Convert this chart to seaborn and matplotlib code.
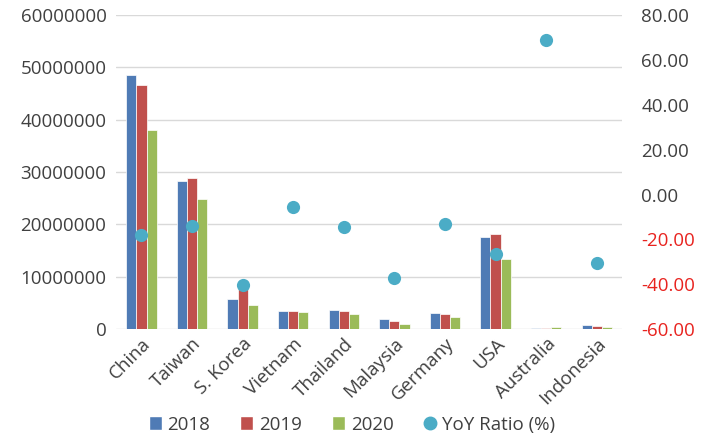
import numpy as np
import pandas as pd
import matplotlib
matplotlib.use("Agg")
import matplotlib.pyplot as plt
from matplotlib.ticker import FuncFormatter, FixedLocator
from matplotlib.lines import Line2D
from matplotlib.patches import Patch
import seaborn as sns

countries = ["China", "Taiwan", "S. Korea", "Vietnam", "Thailand", "Malaysia",
             "Germany", "USA", "Australia", "Indonesia"]
years = ["2018", "2019", "2020"]
v2018 = [48500000, 28400000, 5700000, 3400000, 3600000, 1900000, 3000000, 17600000, 150000, 750000]
v2019 = [46600000, 28800000, 8000000, 3400000, 3400000, 1650000, 2800000, 18200000, 200000, 650000]
v2020 = [38100000, 24800000, 4600000, 3200000, 2900000, 1000000, 2350000, 13400000, 500000, 400000]
yoy = [-18.2, -13.8, -40.4, -5.7, -14.5, -37.3, -12.9, -26.4, 69.0, -30.7]

colors = {"2018": "#4F7BB5", "2019": "#C0504D", "2020": "#9BBB59"}
dot_color = "#4BACC6"
text_color = "#404040"

sns.set_style("white")
plt.rcParams["font.family"] = ["Open Sans", "DejaVu Sans"]

df = pd.DataFrame({
    "country": countries * 3,
    "year": sum([[y] * len(countries) for y in years], []),
    "value": v2018 + v2019 + v2020,
})
dfy = pd.DataFrame({"country": countries, "yoy": yoy})

fig = plt.figure(figsize=(7.04, 4.46), dpi=100)
ax = fig.add_axes([0.165, 0.262, 0.7185, 0.704])
sns.barplot(data=df, x="country", y="value", hue="year", palette=colors,
            width=0.6, ax=ax, legend=False, edgecolor="white", linewidth=0.5,
            saturation=1)
ax.set_ylim(0, 60000000)
ax.yaxis.set_major_locator(FixedLocator(np.arange(0, 60000001, 10000000)))
ax.yaxis.set_major_formatter(FuncFormatter(lambda v, p: f"{int(v)}"))
ax.grid(axis="y", color="#D9D9D9", linewidth=1.0)
ax.set_axisbelow(True)
for s in ax.spines.values():
    s.set_visible(False)
ax.set_xlabel("")
ax.set_ylabel("")
ax.tick_params(axis="y", length=0, labelsize=13.5, labelcolor=text_color, pad=7)
ax.tick_params(axis="x", length=0, labelsize=13.5, labelcolor=text_color, pad=4)
plt.setp(ax.get_xticklabels(), rotation=45, ha="right", rotation_mode="anchor")

ax2 = ax.twinx()
sns.stripplot(data=dfy, x="country", y="yoy", jitter=False, color=dot_color,
              size=9.5, ax=ax2, zorder=5)
ax2.set_ylim(-60, 80)
ax2.yaxis.set_major_locator(FixedLocator(np.arange(-60, 81, 20)))
ax2.yaxis.set_major_formatter(FuncFormatter(lambda v, p: f"{v:.2f}"))
ax2.set_xlim(-0.5, 9.5)
ax.set_xlim(-0.5, 9.5)
ax2.set_ylabel("")
ax2.set_xlabel("")
for s in ax2.spines.values():
    s.set_visible(False)
ax2.tick_params(axis="y", length=0, labelsize=13.5, labelcolor=text_color, pad=14)
for lbl, val in zip(ax2.get_yticklabels(), np.arange(-60, 81, 20)):
    lbl.set_color("#E8231F" if val < 0 else text_color)

handles = [Patch(facecolor=colors[y], label=y) for y in years]
handles.append(Line2D([0], [0], marker="o", linestyle="", markerfacecolor=dot_color,
                      markeredgecolor=dot_color, markersize=9, label="YoY Ratio (%)"))
fig.legend(handles=handles, loc="lower center", bbox_to_anchor=(0.5, -0.01), ncol=4,
           frameon=False, fontsize=13.5, handlelength=0.7, handleheight=0.7,
           handletextpad=0.3, columnspacing=1.6, labelcolor=text_color)

fig.savefig("out.png", dpi=100)
